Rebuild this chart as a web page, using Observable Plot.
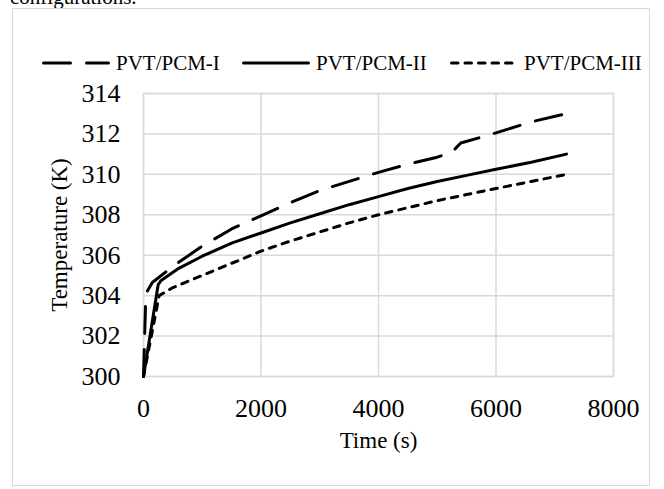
<!DOCTYPE html>
<html>
<head>
<meta charset="utf-8">
<script src="https://cdn.jsdelivr.net/npm/d3@7"></script>
<script src="https://cdn.jsdelivr.net/npm/@observablehq/plot@0.6"></script>
<style>
  html, body { margin: 0; padding: 0; background: #fff; }
  #wrap { position: relative; width: 664px; height: 489px; overflow: hidden; font-family: "Liberation Serif", "Times New Roman", serif; color: #000; }
  #caption { position: absolute; left: 10px; top: -13px; font-size: 21px; line-height: 21px; white-space: nowrap; }
  #box { position: absolute; left: 12px; top: 8px; width: 638px; height: 478px; border: 1.5px solid #d9d9d9; box-sizing: border-box; background: #fff; }
  #chart { position: absolute; left: 0; top: 0; }
  .leg { position: absolute; top: 51px; height: 24px; display: flex; align-items: center; font-size: 21px; white-space: nowrap; }
  .leg svg { display: block; margin-right: 6px; }
</style>
</head>
<body>
<div id="wrap">
  <div id="caption">configurations.</div>
  <div id="box"></div>
  <div id="chart"></div>
  <div id="legend"></div>
</div>
<script>
// Series names
const seriesNames = ["PVT/PCM-I", "PVT/PCM-II", "PVT/PCM-III"];

// PVT/PCM-I (long dash)
const timeI = [0, 40, 150, 500, 700, 1000, 1500, 2000, 2500, 3000, 3500, 4000, 4500, 5000, 5250, 5400, 6000, 6600, 7200];
const tempI = [300, 304.1, 304.65, 305.45, 305.85, 306.45, 307.3, 307.95, 308.6, 309.2, 309.65, 310.1, 310.5, 310.85, 311.1, 311.55, 312.05, 312.6, 313.0];

// PVT/PCM-II (solid)
const timeII = [0, 250, 300, 600, 1000, 1500, 2000, 2500, 3000, 3500, 4000, 4500, 5000, 5500, 6000, 6600, 7200];
const tempII = [300, 304.55, 304.75, 305.35, 305.95, 306.6, 307.1, 307.6, 308.05, 308.5, 308.9, 309.3, 309.65, 309.95, 310.25, 310.6, 311.0];

// PVT/PCM-III (short dash)
const timeIII = [0, 266, 500, 1000, 1500, 2000, 2500, 3000, 3500, 4000, 4500, 5000, 5500, 6000, 6600, 7200];
const tempIII = [300, 304.0, 304.4, 305.0, 305.6, 306.2, 306.7, 307.15, 307.6, 308.0, 308.35, 308.7, 309.0, 309.3, 309.65, 310.0];

// Axis ticks
const xTicks = [0, 2000, 4000, 6000, 8000];
const yTicks = [300, 302, 304, 306, 308, 310, 312, 314];

const dashes = ["27,16", null, "6.5,7"];

const toRows = (ts, vs, name) => ts.map((t, i) => ({t, T: vs[i], series: name}));
const dataI = toRows(timeI, tempI, seriesNames[0]);
const dataII = toRows(timeII, tempII, seriesNames[1]);
const dataIII = toRows(timeIII, tempIII, seriesNames[2]);

const grid = {stroke: "#d9d9d9", strokeOpacity: 1, strokeWidth: 1.5};
const lineOpts = {x: "t", y: "T", stroke: "black", strokeWidth: 3, strokeLinecap: "round", strokeLinejoin: "round"};

const chart = Plot.plot({
  width: 664,
  height: 489,
  marginLeft: 143,
  marginRight: 51,
  marginTop: 93,
  marginBottom: 113,
  style: {fontFamily: "Liberation Serif, Times New Roman, serif", fontSize: "26px", color: "black", background: "transparent", overflow: "visible"},
  x: {domain: [0, 8000]},
  y: {domain: [300, 314]},
  marks: [
    Plot.gridX(xTicks, grid),
    Plot.gridY(yTicks, grid),
    Plot.frame({stroke: "#d9d9d9", strokeWidth: 1.5}),
    Plot.axisX(xTicks, {tickSize: 0, tickPadding: 22, label: null, tickFormat: d => String(d)}),
    Plot.axisY(yTicks, {tickSize: 0, tickPadding: 23, label: null, tickFormat: d => String(d)}),
    Plot.line(dataIII, {...lineOpts, strokeDasharray: dashes[2]}),
    Plot.line(dataII, {...lineOpts}),
    Plot.line(dataI, {...lineOpts, strokeDasharray: dashes[0]}),
    Plot.text(["Time (s)"], {text: d => d, frameAnchor: "bottom", textAnchor: "middle", dy: 71, lineAnchor: "bottom", fontSize: 23, fill: "black"}),
    Plot.text(["Temperature (K)"], {text: d => d, frameAnchor: "left", textAnchor: "middle", dx: -77, rotate: -90, lineAnchor: "bottom", fontSize: 23, fill: "black"})
  ]
});
document.getElementById("chart").appendChild(chart);

// Legend
const legendPos = [42, 242, 450];
const legend = document.getElementById("legend");
seriesNames.forEach((name, i) => {
  const item = document.createElement("div");
  item.className = "leg";
  item.style.left = legendPos[i] + "px";
  const w = 68;
  const dash = dashes[i] ? `stroke-dasharray="${dashes[i]}"` : "";
  item.innerHTML = `<svg width="${w}" height="8"><line x1="1.5" y1="4" x2="${w - 1.5}" y2="4" stroke="black" stroke-width="3" stroke-linecap="round" ${dash}/></svg><span>${name}</span>`;
  legend.appendChild(item);
});
</script>
</body>
</html>
